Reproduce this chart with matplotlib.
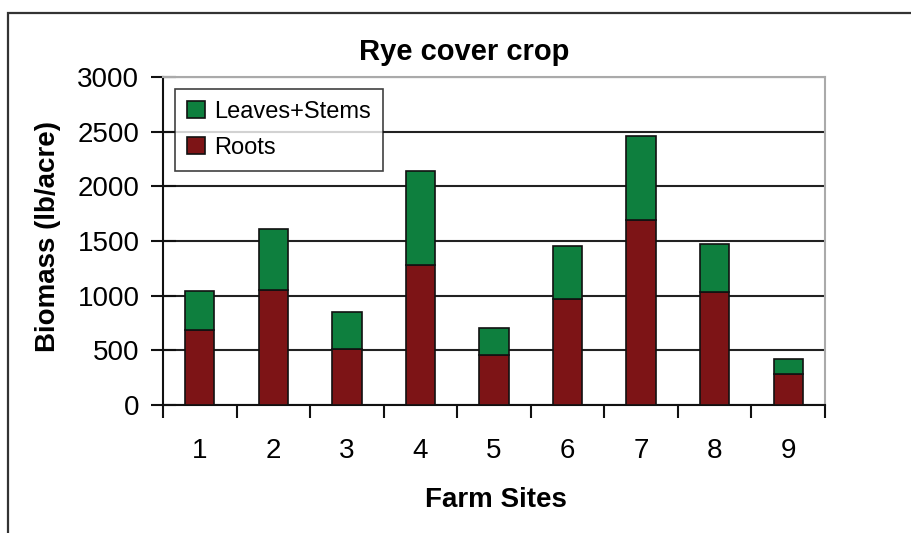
import matplotlib
matplotlib.use("Agg")
import matplotlib.pyplot as plt
from matplotlib.patches import Rectangle
import numpy as np

plt.rcParams['font.family'] = ['Liberation Sans', 'DejaVu Sans']

# data
sites = ['1', '2', '3', '4', '5', '6', '7', '8', '9']
roots = [690, 1055, 515, 1285, 460, 970, 1695, 1030, 285]
totals = [1040, 1610, 855, 2140, 705, 1450, 2460, 1470, 425]
leaves = [t - r for t, r in zip(totals, roots)]

green = '#0E7F3E'
red = '#7D1416'

W, H = 912, 533
fig = plt.figure(figsize=(W / 100, H / 100), dpi=100)
ax = fig.add_axes([163 / W, 1 - 405 / H, 662 / W, 328 / H])

# outer chart frame (runs off the right and bottom edges)
fig.patches.append(Rectangle((8 / W, -0.1), 1.2, 1 - 13 / H + 0.1,
                             transform=fig.transFigure, fill=False,
                             edgecolor='#333333', linewidth=1.6))

x = np.arange(len(sites))
bw = 0.4
ax.bar(x, roots, bw, color=red, edgecolor='#111111', linewidth=1.2,
       label='Roots', zorder=3)
ax.bar(x, leaves, bw, bottom=roots, color=green, edgecolor='#111111',
       linewidth=1.2, label='Leaves+Stems', zorder=3)

ax.set_xlim(-0.5, len(sites) - 0.5)
ax.set_ylim(0, 3000)
ax.set_yticks(np.arange(0, 3001, 500))
ax.yaxis.grid(True, color='#222222', linewidth=1.5, zorder=1)

# x ticks at category boundaries, labels centred
ax.set_xticks(np.arange(-0.5, len(sites)), minor=False)
ax.set_xticklabels([])
ax.set_xticks(x, minor=True)
ax.set_xticklabels(sites, minor=True, fontsize=20)
ax.tick_params(axis='x', which='minor', length=0, pad=24)
ax.tick_params(axis='x', which='major', direction='out', length=9,
               width=1.5, color='#111111')
ax.tick_params(axis='y', direction='inout', length=18, width=1.5,
               color='#111111', labelsize=20, pad=8)

for side in ['top', 'right']:
    ax.spines[side].set_color('#aaaaaa')
    ax.spines[side].set_linewidth(1.5)
for side in ['left', 'bottom']:
    ax.spines[side].set_color('#111111')
    ax.spines[side].set_linewidth(1.5)

fig.text(464 / W, 1 - 52 / H, 'Rye cover crop', fontsize=21,
         fontweight='bold', ha='center', va='center')
fig.text(48 / W, 1 - 237 / H, 'Biomass (lb/acre)', fontsize=20,
         fontweight='bold', rotation=90, ha='center', va='center')
fig.text(496 / W, 1 - 500 / H, 'Farm Sites', fontsize=20,
         fontweight='bold', ha='center', va='center')

h, l = ax.get_legend_handles_labels()
leg = ax.legend(h[::-1], l[::-1], loc='upper left',
                bbox_to_anchor=(12 / 662, 1 - 12 / 328), fontsize=17,
                frameon=True, fancybox=False, handlelength=0.75,
                handleheight=0.75, handletextpad=0.4, borderpad=0.5,
                labelspacing=0.6, borderaxespad=0)
leg.get_frame().set_edgecolor('#111111')
leg.get_frame().set_linewidth(1.2)
leg.set_zorder(5)

fig.savefig('out.png', dpi=100)
